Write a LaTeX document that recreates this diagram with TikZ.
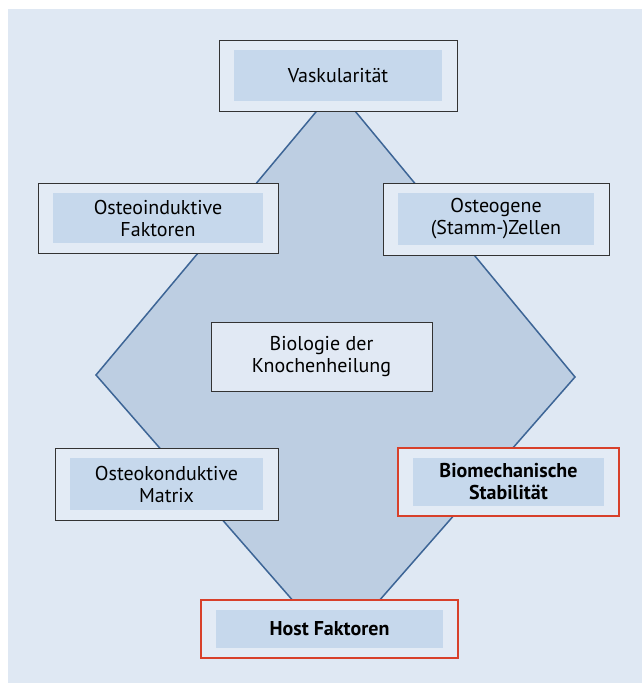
\documentclass[tikz,border=0pt]{standalone}
\usepackage{fontspec}
\setmainfont{PT Sans}
\usepackage{tikz}
\definecolor{bgblue}{HTML}{DFE8F3}
\definecolor{boxblue}{HTML}{E3EBF5}
\definecolor{innerblue}{HTML}{C6D8EC}
\definecolor{diafill}{HTML}{BDCEE2}
\definecolor{dialine}{HTML}{3D6596}
\definecolor{hostred}{HTML}{D8402A}
\newcommand\IX{15pt}
\newcommand\IY{10pt}

\begin{document}
\begin{tikzpicture}[x=1pt,y=-1pt,font=\fontsize{20}{22}\selectfont]

  \tikzstyle{factor}=[rectangle,draw=black!80,line width=1pt,fill=boxblue,
                      align=center,inner sep=0pt,
                      path picture={\fill[innerblue]
                        ([xshift=\IX,yshift=-\IY]path picture bounding box.north west)
                        rectangle
                        ([xshift=-\IX,yshift=\IY]path picture bounding box.south east);}]
  \tikzstyle{key}=[factor,draw=hostred,line width=1.6pt,font=\fontsize{20}{22}\selectfont\bfseries]
  \tikzstyle{core}=[rectangle,draw=black!80,line width=1pt,fill=bgblue!95!white,
                    align=center,inner sep=0pt]

  \useasboundingbox (0,0) rectangle (642,683);
  \fill[bgblue] (8,9) rectangle (642,683);

  % Raute
  \coordinate (T) at (336,88);
  \coordinate (R) at (575,377);
  \coordinate (B) at (336,650);
  \coordinate (L) at (96,375);
  \draw[dialine,fill=diafill,line width=1.5pt] (T) -- (R) -- (B) -- (L) -- cycle;

  \node[factor,minimum width=238pt,minimum height=71pt] (VAS) at (338,75.5) {Vaskularität};
  \node[factor,minimum width=240pt,minimum height=70pt] (OIF) at (158,218)  {Osteoinduktive\\Faktoren};
  \node[factor,minimum width=226pt,minimum height=72pt] (OGZ) at (496,219)  {Osteogene\\(Stamm-)Zellen};
  \node[core,  minimum width=221pt,minimum height=69pt] (BIO) at (321.5,356.5) {Biologie der\\Knochenheilung};
  \node[factor,minimum width=223pt,minimum height=72pt] (OKM) at (166.5,484) {Osteokonduktive\\Matrix};
  \node[key,   minimum width=221pt,minimum height=68pt] (BMS) at (508.5,482) {Biomechanische\\Stabilität};
  \node[key,   minimum width=257pt,minimum height=58pt] (HOF) at (329.5,629) {Host Faktoren};

\end{tikzpicture}
\end{document}
